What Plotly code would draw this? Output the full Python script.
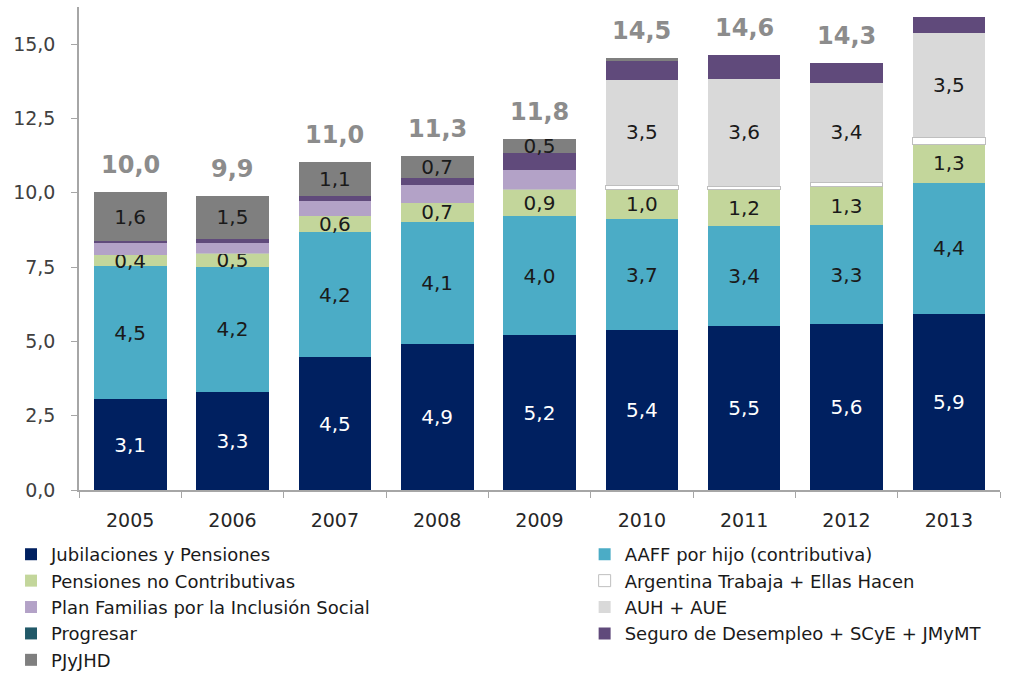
import plotly.graph_objects as go

years = ["2005", "2006", "2007", "2008", "2009", "2010", "2011", "2012", "2013"]

jubilaciones = [3.06, 3.30, 4.47, 4.91, 5.21, 5.38, 5.52, 5.58, 5.92]
aaff_hijo = [4.46, 4.20, 4.20, 4.10, 4.00, 3.74, 3.36, 3.33, 4.42]
pensiones_nc = [0.39, 0.46, 0.55, 0.66, 0.90, 0.99, 1.24, 1.31, 1.30]
argentina_trabaja = [0, 0, 0, 0, 0.03, 0.15, 0.10, 0.13, 0.22]
plan_familias = [0.41, 0.36, 0.51, 0.60, 0.64, 0, 0, 0, 0]
auh_aue = [0, 0, 0, 0, 0, 3.55, 3.62, 3.36, 3.52]
progresar = [0, 0, 0, 0, 0, 0, 0, 0, 0]
seguro = [0.05, 0.12, 0.17, 0.24, 0.56, 0.62, 0.80, 0.64, 0.52]
pjyjhd = [1.64, 1.46, 1.12, 0.74, 0.46, 0.09, 0, 0, 0]

total_years = ["2005", "2006", "2007", "2008", "2009", "2010", "2011", "2012"]
totals = [10.0, 9.9, 11.0, 11.3, 11.8, 14.5, 14.6, 14.3]

# name, values, colour, label colour, labelled, legend column
series = [
    ("Jubilaciones y Pensiones", jubilaciones, "#002060", "white", True, "legend"),
    ("AAFF por hijo (contributiva)", aaff_hijo, "#4BACC6", "#1a1a1a", True, "legend2"),
    ("Pensiones no Contributivas", pensiones_nc, "#C3D69B", "#1a1a1a", True, "legend"),
    ("Argentina Trabaja + Ellas Hacen", argentina_trabaja, "#FFFFFF", "#1a1a1a", False, "legend2"),
    ("Plan Familias por la Inclusión Social", plan_familias, "#B3A2C7", "#1a1a1a", False, "legend"),
    ("AUH + AUE", auh_aue, "#D9D9D9", "#1a1a1a", True, "legend2"),
    ("Progresar", progresar, "#215968", "#1a1a1a", False, "legend"),
    ("Seguro de Desempleo + SCyE + JMyMT", seguro, "#604A7B", "#1a1a1a", False, "legend2"),
    ("PJyJHD", pjyjhd, "#7F7F7F", "#1a1a1a", True, "legend"),
]

fig = go.Figure()
for name, vals, color, tcolor, labelled, leg in series:
    texts = [(f"{v:.1f}".replace(".", ",") if (labelled and v >= 0.3) else "") for v in vals]
    is_white = color == "#FFFFFF"
    fig.add_trace(go.Bar(
        name=name, x=years, y=vals, legend=leg,
        marker=dict(color=color,
                    line=dict(color="#BFBFBF" if is_white else color, width=1 if is_white else 0)),
        text=texts, textposition="inside", insidetextanchor="middle",
        textangle=0,
        textfont=dict(family="DejaVu Sans", size=20, color=tcolor),
        hoverinfo="skip",
    ))

stack_tops = [sum(s[1][i] for s in series) for i in range(len(years))]

for yr, t in zip(total_years, totals):
    idx = years.index(yr)
    fig.add_annotation(
        x=idx, y=stack_tops[idx], text=f"{t:.1f}".replace(".", ","),
        showarrow=False, yshift=27, yanchor="middle",
        font=dict(family="DejaVu Sans", size=24, color="#8C8C8C", weight="bold"),
    )

legend_common = dict(
    orientation="v", yanchor="top", xanchor="left",
    traceorder="normal",
    font=dict(family="DejaVu Sans", size=18, color="#1a1a1a"),
    itemclick=False, bgcolor="rgba(0,0,0,0)",
)

fig.update_layout(
    barmode="stack",
    bargap=0.29,
    width=1010, height=675,
    margin=dict(l=79, r=10, t=7, b=185, autoexpand=False),
    plot_bgcolor="white", paper_bgcolor="white",
    separators=",.",
    uniformtext=dict(minsize=20, mode="show"),
    showlegend=True,
    legend=dict(x=-0.0738, y=-0.0953, **legend_common),
    legend2=dict(x=0.549, y=-0.0953, **legend_common),
)

fig.update_yaxes(
    range=[0, 16.25], tickvals=[0, 2.5, 5, 7.5, 10, 12.5, 15], tickformat=".1f",
    showgrid=False, zeroline=False,
    showline=True, linecolor="#A6A6A6", linewidth=1.5,
    ticks="outside", ticklen=6, tickcolor="#A6A6A6",
    ticklabelstandoff=12,
    tickfont=dict(family="DejaVu Sans", size=19, color="#404040"),
)
fig.update_xaxes(
    type="category", range=[-0.5, len(years) - 0.5],
    showgrid=False, showline=True, linecolor="#A6A6A6", linewidth=1.5,
    ticks="outside", ticklen=6, tickcolor="#A6A6A6", tickson="boundaries",
    ticklabelstandoff=12,
    tickfont=dict(family="DejaVu Sans", size=19, color="#262626"),
)

fig.write_html("out.html")
